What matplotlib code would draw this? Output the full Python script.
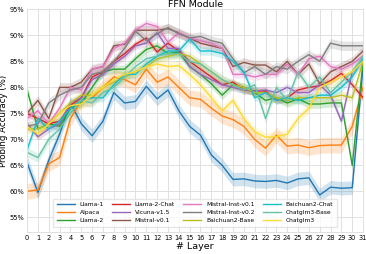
import numpy as np
import matplotlib
matplotlib.use("Agg")
import matplotlib.pyplot as plt

layers = np.arange(32)

names = ["Llama-1", "Alpaca", "Llama-2", "Llama-2-Chat", "Vicuna-v1.5", "Mistral-v0.1",
         "Mistral-Inst-v0.1", "Mistral-Inst-v0.2", "Baichuan2-Base", "Baichuan2-Chat",
         "Chatglm3-Base", "Chatglm3"]

llama1 = [65.5, 59.8, 66.0, 71.0, 77.0, 73.0, 70.7, 73.5, 79.0, 77.0, 77.3, 80.2, 77.8, 79.5, 75.5, 72.5,
          70.8, 67.0, 65.0, 62.3, 62.4, 62.0, 61.9, 62.1, 61.6, 62.4, 62.6, 59.3, 60.8, 60.6, 60.7, 84.0]
alpaca = [60.0, 60.3, 65.3, 66.5, 74.0, 77.5, 78.0, 80.0, 82.0, 81.5, 80.5, 83.5, 81.0, 82.0, 80.0, 78.0,
          77.7, 76.0, 74.5, 73.8, 72.5, 70.0, 68.3, 70.8, 68.7, 68.9, 68.4, 68.8, 68.9, 68.9, 72.5, 80.0]
llama2 = [79.5, 72.0, 73.0, 72.5, 76.0, 77.0, 80.0, 83.0, 83.5, 83.5, 85.5, 87.3, 88.0, 86.5, 86.8, 84.0,
          82.5, 80.7, 78.5, 80.5, 80.0, 79.0, 77.5, 78.0, 77.0, 77.8, 76.8, 76.8, 77.0, 77.0, 65.0, 85.0]
llama2_chat = [75.0, 74.0, 73.0, 73.5, 76.5, 78.0, 82.0, 83.0, 85.0, 86.5, 88.3, 89.5, 86.8, 88.5, 87.0, 85.0,
               83.5, 82.0, 80.5, 81.0, 79.5, 79.3, 79.3, 77.5, 78.0, 79.5, 80.0, 80.3, 81.3, 82.7, 80.5, 78.0]
vicuna = [73.0, 70.5, 72.0, 73.0, 77.0, 78.0, 81.5, 82.5, 84.5, 86.0, 88.0, 88.5, 90.5, 87.5, 87.5, 84.0,
          82.5, 81.5, 80.5, 80.0, 79.5, 79.3, 79.5, 79.0, 80.0, 79.0, 79.0, 80.5, 78.5, 73.5, 83.0, 85.0]
mistral = [75.0, 77.5, 74.0, 80.0, 80.0, 81.0, 83.5, 84.0, 88.0, 88.3, 91.0, 91.0, 91.0, 91.3, 90.5, 89.5,
           88.5, 88.0, 87.5, 84.0, 84.8, 84.3, 84.3, 83.0, 85.0, 82.5, 84.5, 80.7, 83.0, 84.0, 85.0, 87.0]
mistral_inst1 = [74.0, 75.5, 73.0, 76.0, 80.0, 79.5, 83.5, 84.0, 87.5, 88.5, 91.0, 92.3, 91.7, 88.7, 90.5, 89.5,
                 89.0, 88.5, 87.5, 82.5, 82.5, 82.0, 82.5, 82.5, 84.5, 82.5, 85.5, 86.0, 84.0, 83.5, 84.5, 86.0]
mistral_inst2 = [72.5, 73.0, 77.0, 78.5, 79.5, 80.0, 82.5, 83.0, 85.0, 87.5, 90.8, 89.0, 90.3, 91.5, 90.3, 89.5,
                 89.8, 89.0, 88.5, 85.5, 82.8, 84.0, 82.5, 84.0, 83.5, 85.0, 86.3, 85.0, 88.5, 88.0, 88.0, 88.0]
baichuan_base = [72.0, 72.0, 73.0, 75.0, 77.0, 78.5, 78.5, 80.0, 81.0, 82.0, 83.0, 84.0, 85.5, 86.0, 86.5, 86.0,
                 84.5, 83.0, 81.5, 80.5, 80.0, 79.0, 79.0, 78.0, 77.5, 78.0, 78.0, 78.0, 78.0, 78.5, 78.0, 85.0]
baichuan_chat = [68.0, 74.0, 72.0, 73.5, 76.0, 77.5, 78.0, 78.0, 80.5, 82.5, 82.5, 84.5, 86.0, 87.0, 87.0, 89.3,
                 87.0, 87.0, 86.5, 85.0, 83.0, 78.0, 79.0, 77.5, 78.0, 77.5, 78.0, 78.5, 78.5, 80.0, 82.0, 85.5]
chatglm3_base = [67.5, 66.5, 70.0, 72.0, 75.0, 77.5, 77.0, 79.0, 80.0, 82.0, 84.0, 85.5, 86.0, 86.5, 86.5, 85.0,
                 84.5, 83.0, 81.5, 80.5, 79.5, 80.5, 74.0, 80.0, 77.5, 83.0, 80.0, 82.0, 79.0, 81.0, 83.0, 86.0]
chatglm3 = [72.5, 71.0, 73.0, 75.0, 76.5, 76.8, 78.5, 80.0, 81.5, 82.5, 83.0, 84.0, 84.5, 84.0, 84.2, 82.5,
            80.5, 78.0, 75.5, 77.5, 74.0, 71.5, 70.4, 70.5, 71.0, 74.0, 76.0, 80.0, 81.0, 82.0, 83.0, 85.0]

# rough spread of the shaded band per model
spread = [1.3, 1.5, 0.8, 0.7, 0.7, 0.9, 0.7, 0.9, 0.8, 0.8, 0.9, 0.9]

series = [llama1, alpaca, llama2, llama2_chat, vicuna, mistral, mistral_inst1, mistral_inst2,
          baichuan_base, baichuan_chat, chatglm3_base, chatglm3]
colors = list(plt.get_cmap("tab10").colors) + ["#66c2a5", "#ffd92f"]

fig = plt.figure(figsize=(3.66, 2.54), dpi=100)
ax = fig.add_axes([0.074, 0.087, 0.918, 0.876])

for name, vals, sd, c in zip(names, series, spread, colors):
    vals = np.array(vals)
    ax.fill_between(layers, vals - sd, vals + sd, color=c, alpha=0.2, linewidth=0)
    ax.plot(layers, vals, color=c, lw=1.0, label=name)

ax.set_xlim(0, 31)
ax.set_ylim(52.2, 95)
ax.set_xticks(layers)
ax.set_yticks(np.arange(55, 96, 5))
ax.set_yticklabels([f"{v}%" for v in range(55, 96, 5)])
ax.tick_params(labelsize=4.8, length=0, pad=2)
ax.grid(color="#e0e0e0", lw=0.7)
ax.set_axisbelow(True)
for s in ax.spines.values():
    s.set_color("#e0e0e0")
    s.set_linewidth(0.7)

ax.set_title("FFN Module", fontsize=6.8, pad=2)
ax.set_xlabel("# Layer", fontsize=6.8, labelpad=1)
ax.set_ylabel("Probing Accuracy (%)", fontsize=6.2, labelpad=1)

ax.legend(ncol=4, fontsize=4.3, loc="lower center", bbox_to_anchor=(0.5, 0.01),
          frameon=True, edgecolor="#e0e0e0", handlelength=3.0, columnspacing=1.4,
          labelspacing=0.45, borderpad=0.6, fancybox=False)

fig.savefig("out.png", dpi=100)
